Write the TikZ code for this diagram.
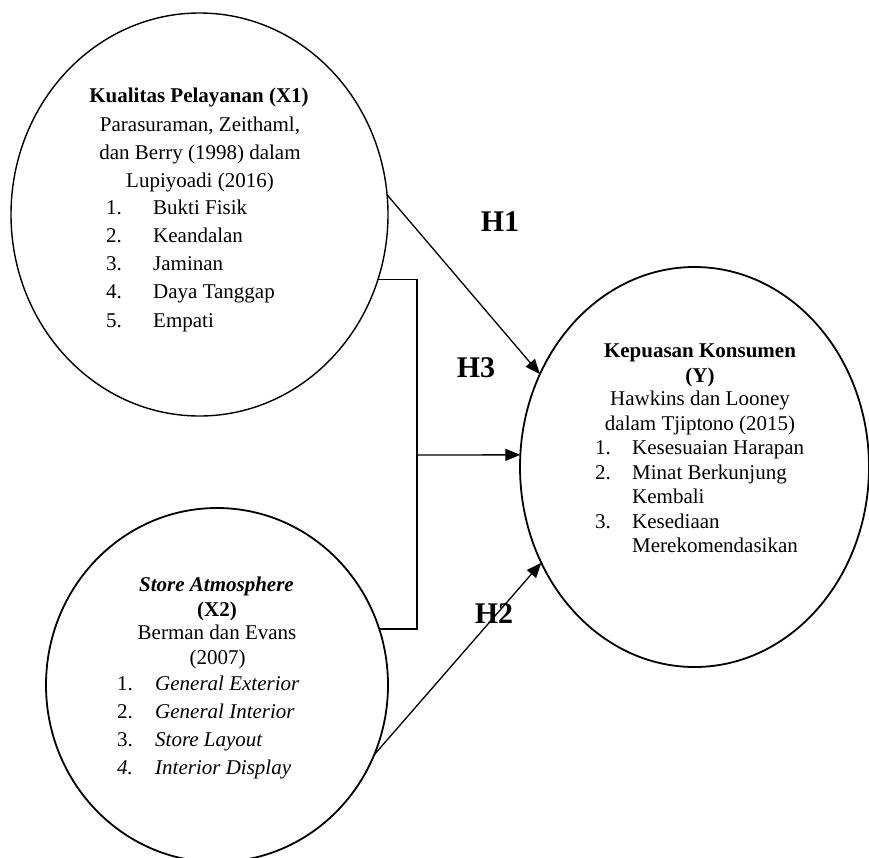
\documentclass[tikz,border=0pt]{standalone}
\usepackage{fontspec}
\setmainfont{Liberation Serif}
\usetikzlibrary{shapes.geometric,arrows.meta}
\tikzset{
  ell/.style={draw, ellipse, inner sep=0pt, outer sep=0pt, line width=1.8pt},
  txt/.style={inner sep=0pt, font=\fontsize{21}{25}\selectfont},
  lbl/.style={inner sep=0pt, font=\fontsize{30}{34}\selectfont\bfseries},
  conn/.style={line width=1.3pt},
  arr/.style={line width=1.3pt, -{Triangle[length=15pt,width=12pt]}}
}
\begin{document}
\begin{tikzpicture}[x=1pt,y=-1pt]
\useasboundingbox (0,0) rectangle (869,857);
% ellipses
\node[ell, line width=1.4pt, minimum width=377, minimum height=403] (e1) at (199.5,214.5) {};
\node[ell, minimum width=342, minimum height=354] (e2) at (217,685) {};
\node[ell, minimum width=349, minimum height=400] (ey) at (694.5,467) {};
% X1 text
\node[txt, anchor=base] (x1a) at (199,102) {\bfseries Kualitas Pelayanan (X1)};
\node[txt, anchor=base] (x1b) at (200,131) {Parasuraman, Zeithaml,};
\node[txt, anchor=base] (x1c) at (200,159) {dan Berry (1998) dalam};
\node[txt, anchor=base] (x1d) at (200,187) {Lupiyoadi (2016)};
\node[txt, anchor=base west] (x1n1) at (106,214) {1.};
\node[txt, anchor=base west] (x1i1) at (153,214) {Bukti Fisik};
\node[txt, anchor=base west] (x1n2) at (106,242) {2.};
\node[txt, anchor=base west] (x1i2) at (153,242) {Keandalan};
\node[txt, anchor=base west] (x1n3) at (106,270) {3.};
\node[txt, anchor=base west] (x1i3) at (153,270) {Jaminan};
\node[txt, anchor=base west] (x1n4) at (106,298) {4.};
\node[txt, anchor=base west] (x1i4) at (153,298) {Daya Tanggap};
\node[txt, anchor=base west] (x1n5) at (106,327) {5.};
\node[txt, anchor=base west] (x1i5) at (153,327) {Empati};
% X2 text
\node[txt, anchor=base] (x2a) at (216.5,591) {\bfseries\itshape Store Atmosphere};
\node[txt, anchor=base] (x2b) at (217,616) {\bfseries (X2)};
\node[txt, anchor=base] (x2c) at (217,639) {Berman dan Evans};
\node[txt, anchor=base] (x2d) at (217.5,664) {(2007)};
\node[txt, anchor=base west] (x2n1) at (117,690) {1.};
\node[txt, anchor=base west] (x2i1) at (155,690) {\itshape General Exterior};
\node[txt, anchor=base west] (x2n2) at (117,718) {2.};
\node[txt, anchor=base west] (x2i2) at (155,718) {\itshape General Interior};
\node[txt, anchor=base west] (x2n3) at (117,746) {3.};
\node[txt, anchor=base west] (x2i3) at (155,746) {\itshape Store Layout};
\node[txt, anchor=base west] (x2n4) at (117,774) {\itshape 4.};
\node[txt, anchor=base west] (x2i4) at (155,774) {\itshape Interior Display};
% Y text
\node[txt, anchor=base] (ya) at (700,357) {\bfseries Kepuasan Konsumen};
\node[txt, anchor=base] (yb) at (700,382) {\bfseries (Y)};
\node[txt, anchor=base] (yc) at (700,405) {Hawkins dan Looney};
\node[txt, anchor=base] (yd) at (700,430) {dalam Tjiptono (2015)};
\node[txt, anchor=base west] (yn1) at (595,454) {1.};
\node[txt, anchor=base west] (yi1) at (632,454) {Kesesuaian Harapan};
\node[txt, anchor=base west] (yn2) at (595,479) {2.};
\node[txt, anchor=base west] (yi2) at (632,479) {Minat Berkunjung};
\node[txt, anchor=base west] (yi2b) at (632,503) {Kembali};
\node[txt, anchor=base west] (yn3) at (595,528) {3.};
\node[txt, anchor=base west] (yi3) at (632,528) {Kesediaan};
\node[txt, anchor=base west] (yi3b) at (632,552) {Merekomendasikan};
% labels
\node[lbl, anchor=base] (h1) at (500,231) {H1};
\node[lbl, anchor=base] (h3) at (476,377) {H3};
\node[lbl, anchor=base] (h2) at (494,623) {H2};
% connectors
\coordinate (bm) at (417,455);
\draw[conn] (e1.-20.3) -| (bm) |- (e2.19.6);
\draw[arr] (bm) -- (ey.176);
\draw[arr] (e1.6.5) -- (ey.149);
\draw[arr] (e2.-24.8) -- (ey.-148.7);
\end{tikzpicture}
\end{document}
